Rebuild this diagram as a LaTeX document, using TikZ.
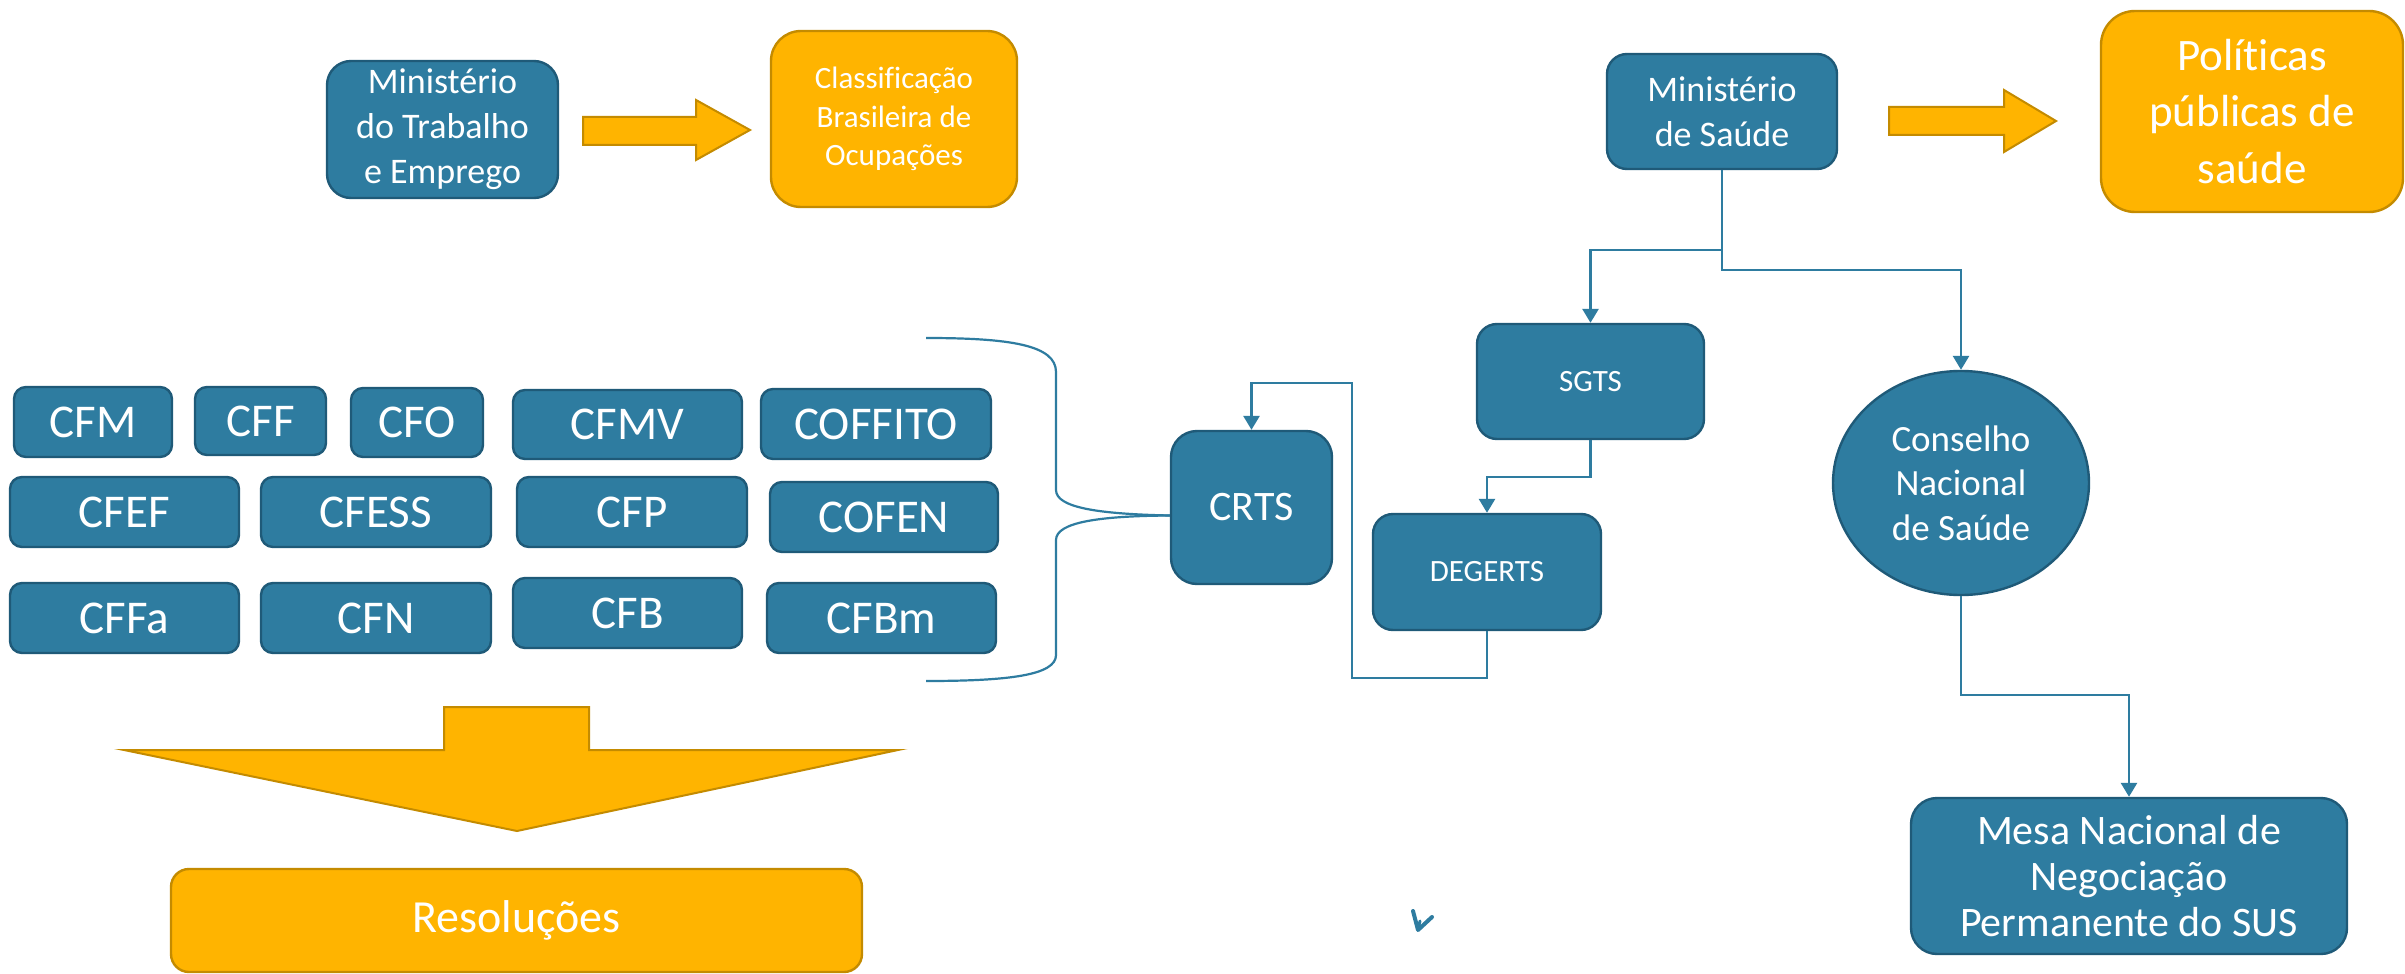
\documentclass[tikz,border=0pt]{standalone}
\usepackage{fontspec}
\setmainfont{Carlito}[Ligatures=NoCommon]
\usetikzlibrary{arrows.meta,shapes.geometric,calc}
\definecolor{bfill}{HTML}{2E7CA0}
\definecolor{bdraw}{HTML}{1F5A78}
\definecolor{yfill}{HTML}{FFB400}
\definecolor{ydraw}{HTML}{C48B00}
\tikzset{
  box/.style={draw=bdraw, fill=bfill, line width=1.2pt, text=white, align=center, inner sep=0pt, rounded corners=#1},
  box/.default=6pt,
  ybox/.style={draw=ydraw, fill=yfill, line width=1.2pt, text=white, align=center, inner sep=0pt, rounded corners=#1},
  ybox/.default=12pt,
  sz/.style 2 args={minimum width=#1*0.5pt, minimum height=#2*0.5pt},
  fs/.style 2 args={font=\fontsize{#1pt}{#2pt}\selectfont},
  small/.style={box=6pt, fs={23.5}{28}},
  conn/.style={draw=bfill, line width=1.4pt, -{Triangle[length=7pt,width=8pt]}},
  yarrow/.style={fill=yfill, draw=ydraw, line width=1pt, line join=miter},
}
\begin{document}
\begin{tikzpicture}[x=0.5pt,y=-0.5pt]
\useasboundingbox (0,0) rectangle (2405,974);
\fill[white] (0,0) rectangle (2405,974);

% top left
\node[box=12pt, sz={231}{137}, fs={18}{22.5}] (MTE) at (442.5,129.5) {Ministério\\do Trabalho\\e Emprego};
\node[ybox=15pt, sz={246}{176}, fs={15.5}{19.2}] (CBO) at (894,119) {Classificação\\Brasileira de\\Ocupações};
\draw[yarrow] (583,117) -- (696,117) -- (696,100) -- (750,130) -- (696,160) -- (696,145) -- (583,145) -- cycle;

% top right
\node[box=10pt, sz={230}{115}, fs={18}{22.5}] (MS) at (1722,111.5) {Ministério\\de Saúde};
\node[ybox=17pt, sz={302}{201}, fs={22.5}{28.2}] (POL) at (2252,111.5) {Políticas\\públicas de\\saúde};
\draw[yarrow] (1889,107) -- (2004,107) -- (2004,90) -- (2056,121) -- (2004,152) -- (2004,135) -- (1889,135) -- cycle;

% councils
\node[small, sz={158}{70}] (CFM) at (93,422) {CFM};
\node[small, sz={131}{68}] (CFF) at (260.5,421) {CFF};
\node[small, sz={132}{69}] (CFO) at (417,422.5) {CFO};
\node[small, sz={229}{69}] (CFMV) at (627.5,424.5) {CFMV};
\node[small, sz={230}{70}] (COFFITO) at (876,424) {COFFITO};
\node[small, sz={229}{70}] (CFEF) at (124.5,512) {CFEF};
\node[small, sz={230}{70}] (CFESS) at (376,512) {CFESS};
\node[small, sz={230}{70}] (CFP) at (632,512) {CFP};
\node[small, sz={228}{70}] (COFEN) at (884,517) {COFEN};
\node[small, sz={229}{70}] (CFFa) at (124.5,618) {CFFa};
\node[small, sz={230}{70}] (CFN) at (376,618) {CFN};
\node[small, sz={229}{70}] (CFB) at (627.5,613) {CFB};
\node[small, sz={229}{70}] (CFBm) at (881.5,618) {CFBm};

% middle
\node[box=13pt, sz={161}{153}, fs={21}{25}] (CRTS) at (1251.5,507.5) {CRTS};
\node[box=10pt, sz={227}{115}, fs={15.5}{19}] (SGTS) at (1590.5,381.5) {SGTS};
\node[box=10pt, sz={228}{116}, fs={15.5}{19}] (DEG) at (1487,572) {DEGERTS};
\node[ellipse, draw=bdraw, fill=bfill, line width=1.2pt, text=white, align=center, inner sep=0pt, sz={256}{224}, fs={18.5}{22.3}] (CNS) at (1961,483) {Conselho\\Nacional\\de Saúde};
\node[box=13pt, sz={436}{156}, fs={21}{23}] (MESA) at (2129,876) {Mesa Nacional de\\Negociação\\Permanente do SUS};

% bottom left
\draw[yarrow] (444,707) -- (589,707) -- (589,750) -- (898,750) -- (517,831) -- (124,750) -- (444,750) -- cycle;
\node[ybox=9pt, sz={691}{103}, fs={23}{28}] (RES) at (516.5,920.5) {Resoluções};

% brace
\coordinate (tip) at ($(CRTS.west)+(0,8)$);
\draw[bfill, line width=1.1pt] (926,338) .. controls (1010,338) and (1056,345) .. (1056,372) -- (1056,490) .. controls (1056,508) and (1100,514) .. (tip);
\draw[bfill, line width=1.1pt] (tip) .. controls (1100,516) and (1056,522) .. (1056,540) -- (1056,655) .. controls (1056,675) and (1010,681) .. (926,681);

% connectors
\draw[conn] (MS.south) -- (MS.south |- 0,250) -| (SGTS.north);
\draw[conn] (MS.south) -- (MS.south |- 0,270) -| (CNS.north);
\draw[conn] (SGTS.south) -- (SGTS.south |- 0,477) -| (DEG.north);
\draw[conn] (DEG.south) -- (DEG.south |- 0,678) -| (1352,383) -| (CRTS.north);
\draw[conn] (CNS.south) -- (CNS.south |- 0,695) -| (MESA.north);

% stray mark
\draw[bfill, line width=2pt, line cap=round, line join=round] (1413,911) -- (1418,930) -- (1432,917);
\draw[bfill, line width=1.5pt, line cap=round] (1418,930) -- (1420,921);
\end{tikzpicture}
\end{document}
